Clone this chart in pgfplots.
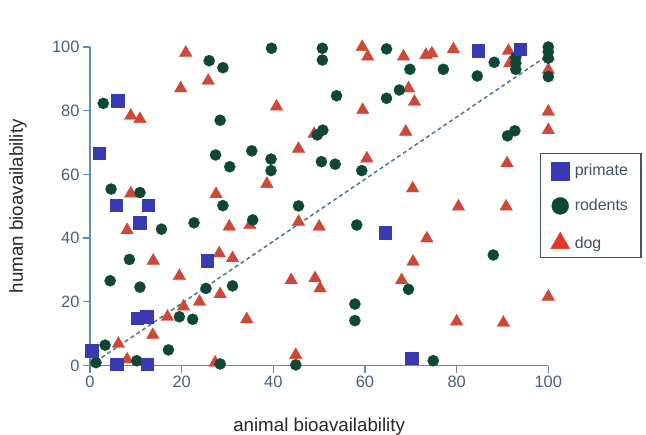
\documentclass[border=0pt]{standalone}
\usepackage{fontspec}
\setmainfont{Liberation Sans}
\usepackage{pgfplots}
\pgfplotsset{compat=1.18}

\definecolor{primcol}{RGB}{55,58,178}
\definecolor{rodcol}{RGB}{14,72,52}
\definecolor{dogcol}{RGB}{205,72,55}
\definecolor{dogleg}{RGB}{225,55,40}
\definecolor{axiscol}{RGB}{98,140,175}
\definecolor{tickcol}{RGB}{70,98,122}
\definecolor{dashcol}{RGB}{78,118,148}
\definecolor{legcol}{RGB}{62,86,98}
\definecolor{labcol}{RGB}{40,40,40}

\begin{document}
\begin{tikzpicture}
\useasboundingbox (-90bp,-69.5bp) rectangle (556bp,365.5bp);
\begin{axis}[
    scale only axis,
    width=458.3bp, height=318.5bp,
    xmin=0, xmax=100, ymin=0, ymax=100,
    axis lines*=left,
    axis line style={axiscol, line width=1.2bp},
    xtick={0,20,...,100}, ytick={0,20,...,100},
    tick align=outside,
    major tick length=7bp,
    tick style={axiscol, line width=1.2bp},
    ticklabel style={font=\fontsize{16.5}{17}\selectfont, text=tickcol},
    /pgf/number format/assume math mode=true,
    clip=false,
    xlabel={animal bioavailability},
    ylabel={human bioavailability},
    label style={font=\fontsize{18.8}{20}\selectfont, text=labcol},
    x label style={at={(axis description cs:0.5,-0.1915)}, anchor=center},
    y label style={at={(axis description cs:-0.157,0.5)}, anchor=center},
    legend cell align=left,
    legend style={at={(axis description cs:0.982,0.667)}, anchor=north west,
        draw=legcol, line width=1.3bp, fill=white,
        inner xsep=10bp, inner ysep=8bp, row sep=17.7bp, column sep=2bp,
        font=\fontsize{16}{17}\selectfont, text=legcol,
        nodes={inner ysep=0bp, inner xsep=3bp}},
]

% diagonal
\addplot[dashcol, line width=1.5bp, dash pattern=on 4bp off 3bp, forget plot]
    coordinates {(0,0) (100,97.5)};

% dog
\addplot[only marks, mark=triangle*, mark size=7.3bp,
    mark options={fill=dogcol, draw=dogcol, line width=0.3bp}, forget plot]
coordinates {
(20.9,98.2) (19.8,87) (25.8,89.4) (8.9,78.4) (10.9,77.4) (8.9,54) (27.5,53.8)
(59.4,100) (60.6,97) (68.4,97) (73.3,97.5) (69.5,87) (70.8,82.8) (40.7,81.3)
(59.5,80.2) (48.9,72.7) (68.9,73.4) (45.5,68) (60.4,65) (38.6,57) (70.4,55.6)
(74.6,98) (79.3,99.3) (91.3,98.8) (91.6,94.9) (100,97) (100,92.8) (100,79.7)
(100,73.9) (91,63.5) (80.4,49.9) (90.8,49.9) (8.1,42.5) (30.4,43.6) (13.8,32.9)
(28.2,35.2) (31.1,33.7) (19.5,28.1) (28.4,22.4) (23.9,20) (20.4,18.5) (16.9,15.3)
(13.7,9.6) (6.2,6.8) (8.1,1.9) (27.3,0.9) (45.5,45.1) (34.9,44.1) (50,43.6)
(73.5,39.9) (43.9,26.8) (49.1,27.4) (50.2,24.2) (70.5,32.6) (68,26.8) (34.2,14.5)
(44.9,3.3) (100,21.6) (80,13.8) (90.2,13.4)
};

% rodents
\addplot[only marks, mark=*, mark size=5.6bp,
    mark options={fill=rodcol, draw=rodcol, line width=0.3bp}, forget plot]
coordinates {
(26,95.7) (29,93.5) (2.9,82.3) (28.4,77) (27.4,66.1) (30.5,62.4) (4.6,55.4)
(10.9,54.3) (29,50.2) (39.6,99.6) (50.7,99.6) (50.7,95.9) (64.7,99.4) (69.8,93)
(53.8,84.7) (64.7,83.9) (67.5,86.5) (49.6,72.4) (50.8,73.9) (35.3,67.4) (39.5,64.8)
(39.5,61.2) (50.5,64) (53.5,63.2) (59.3,61.2) (45.5,50.1) (77.1,93) (88.2,95.2)
(84.5,90.9) (92.9,96.8) (92.9,94.9) (92.9,93) (100,100) (100,98.5) (100,96.5)
(100,90.7) (91.1,72.1) (92.7,73.7) (15.6,42.8) (22.7,44.8) (8.6,33.3) (4.4,26.6)
(10.9,24.6) (25.3,24.2) (31.1,25) (19.5,15.3) (22.4,14.5) (3.3,6.4) (17.1,4.9)
(1.3,0.9) (10.2,1.5) (28.4,0.5) (35.5,45.7) (58.2,44.1) (57.8,19.3) (57.8,14.1)
(69.5,23.9) (44.9,0.2) (74.9,1.5) (88,34.7)
};

% primate
\addplot[only marks, mark=square*, mark size=6.2bp,
    mark options={fill=primcol, draw=primcol, line width=0.3bp}, forget plot]
coordinates {
(6,83.1) (2,66.6) (5.7,50.4) (12.7,50.4) (10.8,44.8) (25.5,32.9) (10.3,14.8)
(12.4,15.3) (0.4,4.6) (5.8,0.5) (12.5,0.5) (64.4,41.7) (70.2,2.3) (84.7,98.8)
(93.8,99.3)
};

\addlegendimage{only marks, mark=square*, mark size=9bp,
    mark options={fill=primcol, draw=primcol, line width=0.3bp}}
\addlegendentry{primate}
\addlegendimage{only marks, mark=*, mark size=8.5bp,
    mark options={fill=rodcol, draw=rodcol, line width=0.3bp}}
\addlegendentry{rodents}
\addlegendimage{only marks, mark=triangle*, mark size=11bp,
    mark options={fill=dogleg, draw=dogleg, line width=0.3bp}}
\addlegendentry{dog}
\end{axis}
\end{tikzpicture}
\end{document}
